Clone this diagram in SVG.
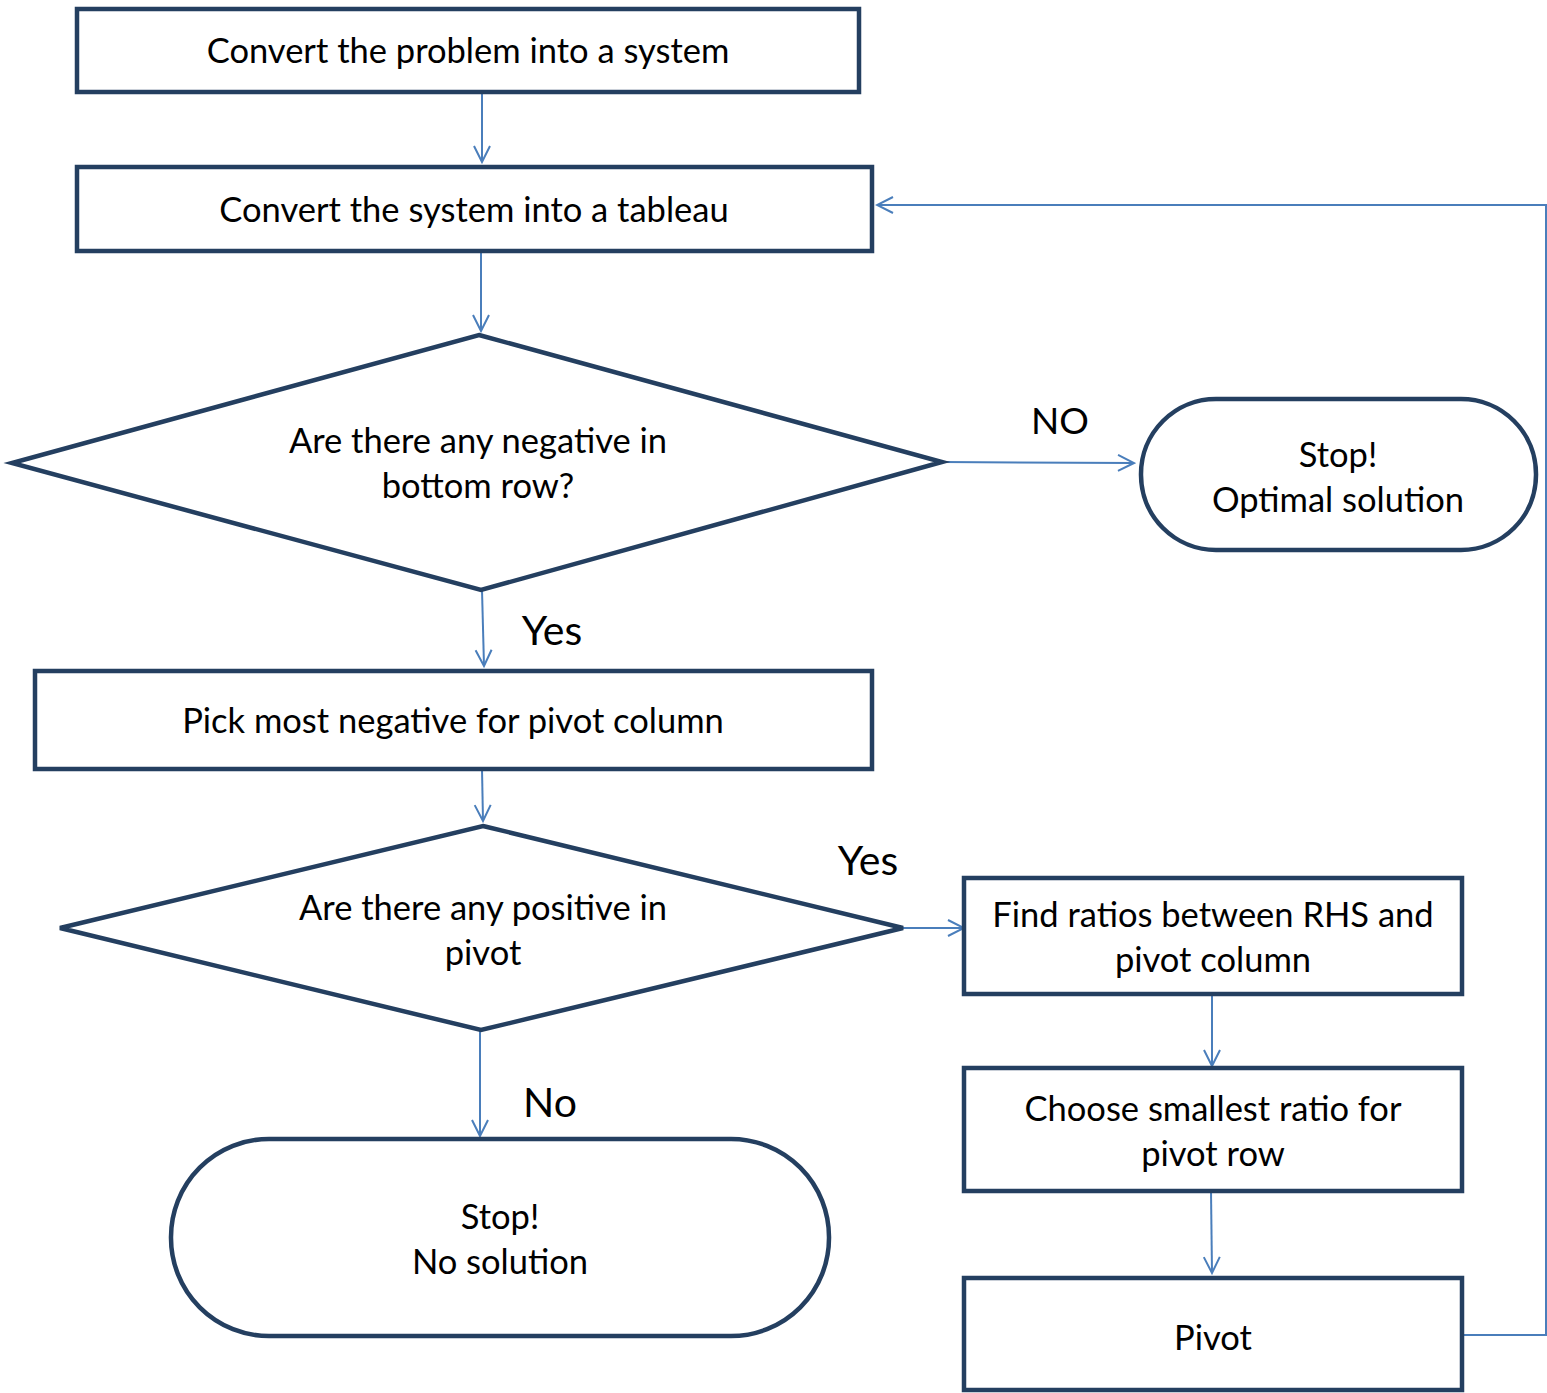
<svg xmlns="http://www.w3.org/2000/svg" width="1547" height="1393" viewBox="0 0 1547 1393">
<defs>
<style>
.node{fill:#fff;stroke:#243F60;stroke-width:4.5}
.lbl{font-family:Lato,"Open Sans","Liberation Sans",sans-serif;font-size:34.5px;fill:#000;text-anchor:middle}
.big{font-family:Lato,"Open Sans","Liberation Sans",sans-serif;font-size:41px;fill:#000;text-anchor:middle}
.conn{fill:none;stroke:#4A7EBB;stroke-width:2}
</style>
<marker id="arr" viewBox="0 0 20 20" refX="18" refY="10" markerWidth="20" markerHeight="20" markerUnits="userSpaceOnUse" orient="auto">
<path d="M2,2 L18,10 L2,18" fill="none" stroke="#4A7EBB" stroke-width="2"/>
</marker>
</defs>
<rect width="1547" height="1393" fill="#fff"/>
<g id="connectors">
<line class="conn" x1="482" y1="92" x2="482" y2="162" marker-end="url(#arr)"/>
<line class="conn" x1="481" y1="251" x2="481" y2="331" marker-end="url(#arr)"/>
<line class="conn" x1="942" y1="462" x2="1134" y2="463" marker-end="url(#arr)"/>
<line class="conn" x1="482" y1="590" x2="484" y2="666" marker-end="url(#arr)"/>
<line class="conn" x1="482" y1="769" x2="483" y2="821" marker-end="url(#arr)"/>
<line class="conn" x1="903" y1="928" x2="964" y2="928" marker-end="url(#arr)"/>
<line class="conn" x1="1212" y1="994" x2="1212" y2="1066" marker-end="url(#arr)"/>
<line class="conn" x1="1211" y1="1191" x2="1212" y2="1273" marker-end="url(#arr)"/>
<line class="conn" x1="480" y1="1030" x2="480" y2="1136" marker-end="url(#arr)"/>
<polyline class="conn" points="1462,1335 1546,1335 1546,205 877,205" marker-end="url(#arr)"/>
<text class="big" x="1060" y="434" style="font-size:37px">NO</text>
<text class="big" x="552" y="645">Yes</text>
<text class="big" x="868" y="875">Yes</text>
<text class="big" x="550" y="1117">No</text>
</g>
<g id="n1">
<rect class="node" x="77" y="9" width="782" height="83"/>
<text class="lbl" x="468" y="63">Convert the problem into a system</text>
</g>
<g id="n2">
<rect class="node" x="77" y="167" width="795" height="84"/>
<text class="lbl" x="474" y="222">Convert the system into a tableau</text>
</g>
<g id="d1">
<polygon class="node" points="479,335 942,462 481,590 12,463"/>
<text class="lbl" x="478" y="453">Are there any negative in</text>
<text class="lbl" x="478" y="498">bottom row?</text>
</g>
<g id="s1">
<rect class="node" x="1141" y="399" width="395" height="151" rx="75" ry="75"/>
<text class="lbl" x="1338" y="467">Stop!</text>
<text class="lbl" x="1338" y="512">Optimal solution</text>
</g>
<g id="n3">
<rect class="node" x="35" y="671" width="837" height="98"/>
<text class="lbl" x="453" y="733">Pick most negative for pivot column</text>
</g>
<g id="d2">
<polygon class="node" points="483,826 903,928 481,1030 60,928"/>
<text class="lbl" x="483" y="920">Are there any positive in</text>
<text class="lbl" x="483" y="965">pivot</text>
</g>
<g id="n4">
<rect class="node" x="964" y="878" width="498" height="116"/>
<text class="lbl" x="1213" y="927">Find ratios between RHS and</text>
<text class="lbl" x="1213" y="972">pivot column</text>
</g>
<g id="n5">
<rect class="node" x="964" y="1068" width="498" height="123"/>
<text class="lbl" x="1213" y="1121">Choose smallest ratio for</text>
<text class="lbl" x="1213" y="1166">pivot row</text>
</g>
<g id="n6">
<rect class="node" x="964" y="1278" width="498" height="112"/>
<text class="lbl" x="1213" y="1350">Pivot</text>
</g>
<g id="s2">
<rect class="node" x="171" y="1139" width="658" height="197" rx="98" ry="98"/>
<text class="lbl" x="500" y="1229">Stop!</text>
<text class="lbl" x="500" y="1274">No solution</text>
</g>
</svg>
